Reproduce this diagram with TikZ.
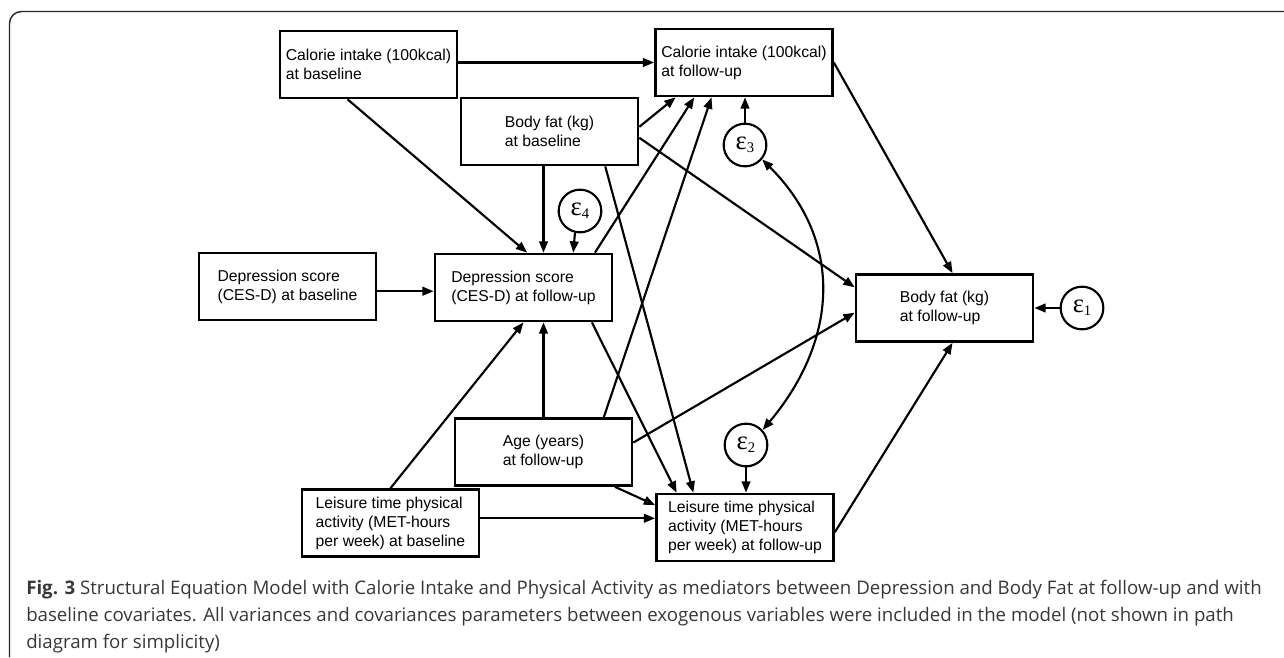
\documentclass[tikz,border=0pt]{standalone}
\usepackage{fontspec}
\setmainfont{Liberation Sans}
\newfontfamily\captionfont{Open Sans}
\newfontfamily\errfont{Liberation Serif}
\usetikzlibrary{arrows.meta}
\definecolor{framegray}{RGB}{40,40,40}
\definecolor{captiongray}{RGB}{55,55,55}
\newcommand\errlab[1]{ε\raisebox{-2.5pt}{\fontsize{11}{11}\selectfont #1}}

\begin{document}
\begin{tikzpicture}[x=0.75pt,y=-0.75pt,>={Triangle[length=8.5pt,width=6.5pt]},
		var/.style={draw,line width=2pt,minimum width=132.75pt,minimum height=50.25pt,inner sep=0pt,align=left,font=\fontsize{11.8}{14.25}\selectfont},
		err/.style={draw,circle,line width=1.6pt,minimum size=32pt,inner sep=0pt,font=\errfont\fontsize{20}{20}\selectfont},
		link/.style={line width=1.6pt,->}]
		\useasboundingbox (0,0) rectangle (1284,657);
		\draw [framegray,line width=1.1pt,rounded corners=9pt] (9.5,657) |- (1290,11.5);
		\node [var] (CalB) at (368.5,64.5) {Calorie intake (100kcal)\\at baseline};
		\node [var] (CalF) at (744,62.5) {Calorie intake (100kcal)\\at follow-up};
		\node [var] (BFB) at (549.5,131.5) {Body fat (kg)\\at baseline};
		\node [var] (DepB) at (287.5,286.5) {Depression score\\(CES-D) at baseline};
		\node [var] (DepF) at (523.5,287.5) {Depression score\\(CES-D) at follow-up};
		\node [var] (BFF) at (944.5,308) {Body fat (kg)\\at follow-up};
		\node [var] (Age) at (543.5,452) {Age (years)\\at follow-up};
		\node [var] (LTPAB) at (390.5,523) {Leisure time physical\\activity (MET-hours\\per week) at baseline};
		\node [var] (LTPAF) at (745,527.5) {Leisure time physical\\activity (MET-hours\\per week) at follow-up};
		\node [err] (e1) at (1082,308) {\errlab{1}};
		\node [err] (e2) at (746,445) {\errlab{2}};
		\node [err] (e3) at (745,145) {\errlab{3}};
		\node [err] (e4) at (580,211) {\errlab{4}};
		\draw [link] (CalF.west -| CalB.east) -- (CalF.west);
		\draw [link] (CalB.-121) -- (DepF.84);
		\draw [link] (BFB.south -| Age.north) -- (Age.north |- DepF.north);
		\draw [link] (e4.-103) -- (DepF.35);
		\draw [link] (DepB.-3) -- (DepB.-3 -| DepF.west);
		\draw [link] (BFB.3) -- (CalF.-153);
		\draw [link] (BFB.-4) -- (BFF.167);
		\draw [link] (BFB.-32) -- (LTPAF.146);
		\draw [link] (DepF.26) -- (CalF.-145);
		\draw [link] (Age.30) -- (CalF.-133);
		\draw [link] (e3.north) -- (e3.north |- CalF.south);
		\draw [link] (CalF.east) -- (BFF.77);
		\draw [link] (e1.west) -- (BFF.east);
		\draw [link,<->] (e3.-40) to [out=-45,in=50,looseness=1.1] (e2.42);
		\draw [link] (Age.north) -- (Age.north |- DepF.south);
		\draw [link] (LTPAB.north) -- (DepF.south);
		\draw [link] (DepF.-27) -- (LTPAF.153);
		\draw [link] (Age.6) -- (BFF.-177);
		\draw [link] (Age.-26) -- (LTPAF.166);
		\draw [link] (LTPAB.3) -- (LTPAB.3 -| LTPAF.west);
		\draw [link] (e2.south) -- (e2.south |- LTPAF.north);
		\draw [link] (LTPAF.-3) -- (BFF.-77);
		\node [anchor=base west,align=left,inner sep=0pt,text=captiongray,font=\captionfont\fontsize{14}{19.9}\selectfont] (cap) at (26,648) {\textbf{Fig. 3} Structural Equation Model with Calorie Intake and Physical Activity as mediators between Depression and Body Fat at follow-up and with\\baseline covariates. All variances and covariances parameters between exogenous variables were included in the model (not shown in path\\diagram for simplicity)};
	\end{tikzpicture}
\end{document}
